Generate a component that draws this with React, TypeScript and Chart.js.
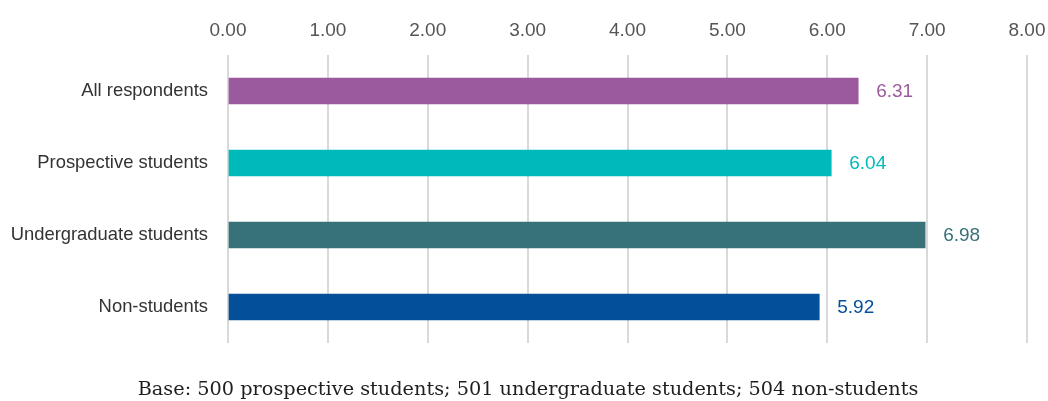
import React, { useEffect, useRef } from "react";
import { Chart, registerables } from "chart.js";

Chart.register(...registerables);

const categories = ["All respondents", "Prospective students", "Undergraduate students", "Non-students"];
const values = [6.31, 6.04, 6.98, 5.92];
const barColors = ["#9B5A9E", "#00BABA", "#367277", "#034F98"];
const footerText = "Base: 500 prospective students; 501 undergraduate students; 504 non-students";
const axisMin = 0;
const axisMax = 8;

const valueLabelPlugin = {
  id: "valueLabels",
  afterDatasetsDraw(chart: any) {
    const ctx = chart.ctx;
    const meta = chart.getDatasetMeta(0);
    ctx.save();
    ctx.font = "19px 'Liberation Sans', Arial, sans-serif";
    ctx.textAlign = "left";
    ctx.textBaseline = "middle";
    meta.data.forEach((bar: any, i: number) => {
      ctx.fillStyle = barColors[i];
      ctx.fillText(values[i].toFixed(2), bar.x + 18, bar.y + 1);
    });
    ctx.restore();
  },
};

const footerPlugin = {
  id: "footer",
  afterDraw(chart: any) {
    const ctx = chart.ctx;
    ctx.save();
    ctx.font = "19.3px 'DejaVu Serif', Georgia, serif";
    ctx.fillStyle = "#1f1f1f";
    ctx.textAlign = "center";
    ctx.textBaseline = "middle";
    ctx.fillText(footerText, 528, 390);
    ctx.restore();
  },
};

export default function App() {
  const ref = useRef<HTMLCanvasElement>(null);
  useEffect(() => {
    if (!ref.current) return;
    const chart = new Chart(ref.current, {
      type: "bar",
      data: {
        labels: categories,
        datasets: [
          {
            data: values,
            backgroundColor: barColors,
            borderWidth: 0,
            barThickness: 26,
          },
        ],
      },
      plugins: [valueLabelPlugin, footerPlugin],
      options: {
        indexAxis: "y",
        animation: false,
        responsive: false,
        maintainAspectRatio: false,
        layout: { padding: { left: 0, right: 21, top: 0, bottom: 58 } },
        plugins: {
          legend: { display: false },
          tooltip: { enabled: false },
        },
        scales: {
          x: {
            position: "top",
            min: axisMin,
            max: axisMax,
            afterFit(scale: any) {
              scale.height = 55;
              scale.paddingRight = 0;
              scale.paddingLeft = 0;
            },
            ticks: {
              stepSize: 1,
              padding: 13,
              color: "#555555",
              font: { family: "'Liberation Sans', Arial, sans-serif", size: 19 },
              callback: (v: any) => Number(v).toFixed(2),
            },
            grid: { color: "#d9d9d9", lineWidth: 2, drawTicks: false },
            border: { display: false },
          },
          y: {
            afterFit(scale: any) {
              scale.width = 228;
              scale.paddingTop = 0;
              scale.paddingBottom = 0;
            },
            ticks: {
              padding: 20,
              color: "#333333",
              font: { family: "'Liberation Sans', Arial, sans-serif", size: 18.4 },
            },
            grid: { display: false, drawTicks: false },
            border: { display: false },
          },
        },
      },
    });
    return () => chart.destroy();
  }, []);
  return (
    <div style={{ position: "fixed", left: 0, top: 0, width: 1048, height: 401, background: "#fff" }}>
      <canvas ref={ref} width={1048} height={401} style={{ display: "block" }} />
    </div>
  );
}
